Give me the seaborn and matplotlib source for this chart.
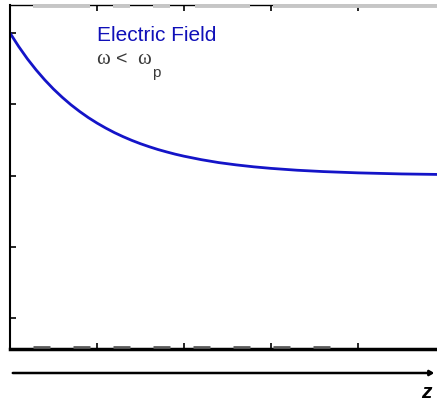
import matplotlib
matplotlib.use("Agg")
import matplotlib.pyplot as plt
import seaborn as sns
import pandas as pd

# Data (z position, field amplitude)
z_vals = [0.0, 0.1, 0.2, 0.3, 0.4, 0.5, 0.6, 0.7, 0.8, 0.9, 1.0, 1.1, 1.2, 1.3, 1.4,
          1.5, 1.6, 1.7, 1.8, 1.9, 2.0, 2.2, 2.4, 2.6, 2.8, 3.0, 3.3, 3.6, 4.0, 4.5, 4.91]
e_vals = [4.000, 3.810, 3.637, 3.482, 3.341, 3.213, 3.098, 2.993, 2.899, 2.813, 2.736,
          2.666, 2.602, 2.545, 2.493, 2.446, 2.404, 2.365, 2.331, 2.299, 2.271, 2.222,
          2.181, 2.149, 2.122, 2.100, 2.074, 2.055, 2.037, 2.022, 2.015]
x_ticks = [1, 2, 3, 4]
y_ticks = [0, 1, 2, 3, 4]
title_text = "Electric Field"
sub_parts = ["ω", "<", "ω"]
sub_index = "p"
axis_label = "z"

df = pd.DataFrame({"z": z_vals, "E": e_vals})

sns.set_style("white")
plt.rcParams["font.family"] = ["Liberation Sans", "DejaVu Sans"]
plt.rcParams["lines.scale_dashes"] = False

W, H = 437, 401
fig = plt.figure(figsize=(W / 100, H / 100), dpi=100)
ax = fig.add_axes([10 / W, 1 - 349 / H, 427 / W, 344 / H])

sns.lineplot(data=df, x="z", y="E", ax=ax, color="#1414c8", linewidth=2.0)

ax.set_xlim(0, 427 / 87)
ax.set_ylim((318 - 349) / 71.25, (318 - 5) / 71.25)
ax.set_xticks(x_ticks)
ax.set_yticks(y_ticks)
ax.set_xticklabels([])
ax.set_yticklabels([])
ax.set_xlabel("")
ax.set_ylabel("")
ax.tick_params(axis="both", direction="in", length=4, width=1.2, color="black",
               top=True, bottom=True, left=True, right=False)

ax.spines["right"].set_visible(False)
ax.spines["top"].set_color("black")
ax.spines["top"].set_linewidth(1.0)
ax.spines["left"].set_color("black")
ax.spines["left"].set_linewidth(1.5)
ax.spines["bottom"].set_color("black")
ax.spines["bottom"].set_linewidth(2.5)

px = 0.72  # points per pixel
# light gray overlay along the top border
ax.plot([23 / 427, 1.0], [0.997, 0.997], color="#c6c6c6", linewidth=2.8,
        linestyle=(0, (57 * px, 23 * px, 17 * px, 23 * px, 17 * px, 25 * px,
                       55 * px, 23 * px, 240 * px, 1 * px)),
        transform=ax.transAxes, clip_on=False, zorder=3)
# dark gray dashes along the bottom axis
ax.plot([0, 0.77], [0.006, 0.006], color="#5a5a5a", linewidth=2,
        linestyle=(17 * px, (17 * px, 23 * px)), transform=ax.transAxes,
        clip_on=False, zorder=3)

# texts
fig.text(97 / W, 1 - 41 / H, title_text, color="#1010b8", fontsize=15,
         ha="left", va="baseline")
serif = ["Liberation Serif", "DejaVu Serif"]
sans = ["Liberation Sans", "DejaVu Sans"]
for xpix, part, fam, fs in zip([96, 116, 137], sub_parts, [serif, sans, serif], [15, 14, 15]):
    fig.text(xpix / W, 1 - 64.5 / H, part, color="#3a3a3a", fontsize=fs,
             family=fam, ha="left", va="baseline")
fig.text(152 / W, 1 - 77 / H, sub_index, color="#3a3a3a", fontsize=11,
         ha="left", va="baseline")

# z-axis arrow below the plot
fig.patches.append(matplotlib.patches.FancyArrowPatch(
    (10 / W, 1 - 373 / H), (437 / W, 1 - 373 / H), transform=fig.transFigure,
    arrowstyle="-|>,head_length=0.25,head_width=0.15", color="black",
    linewidth=1.8, mutation_scale=10))
fig.text(426 / W, 1 - 398 / H, axis_label, fontsize=15, fontweight="bold",
         fontstyle="italic", ha="center", va="baseline", color="black")

fig.savefig("out.png", dpi=100)
